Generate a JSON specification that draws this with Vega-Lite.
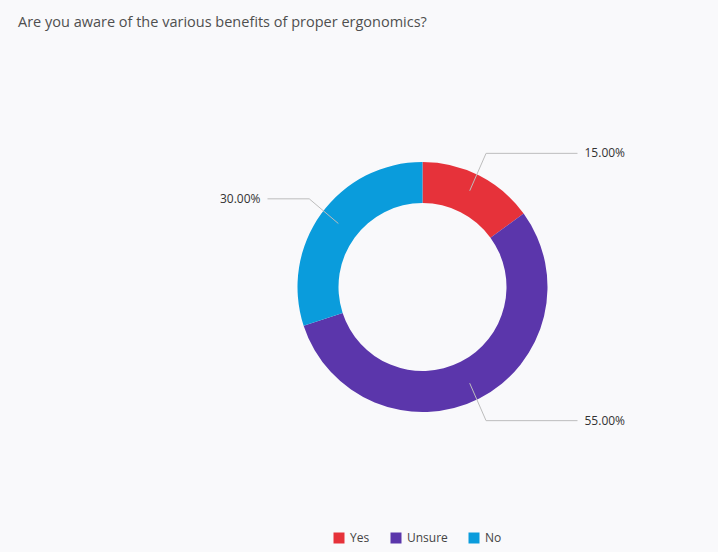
{
  "$schema": "https://vega.github.io/schema/vega-lite/v6.json",
  "width": 560,
  "height": 460,
  "autosize": {"type": "none"},
  "padding": {"left": 142.5, "top": 57, "right": 15.5, "bottom": 35},
  "background": "#f9f9fb",
  "config": {"view": {"stroke": null}, "font": "Open Sans"},
  "title": {
    "text": "Are you aware of the various benefits of proper ergonomics?",
    "anchor": "start",
    "frame": "group",
    "dx": -124.5,
    "offset": 27,
    "font": "Open Sans",
    "fontSize": 14.5,
    "fontWeight": "normal",
    "color": "#4f4f4f"
  },
  "data": {
    "values": [
      {"answer": "Yes", "percent": 15},
      {"answer": "Unsure", "percent": 55},
      {"answer": "No", "percent": 30}
    ]
  },
  "transform": [
    {"window": [{"op": "row_number", "as": "rank"}, {"op": "sum", "field": "percent", "as": "cum"}], "frame": [null, 0]},
    {"joinaggregate": [{"op": "sum", "field": "percent", "as": "total"}]},
    {"calculate": "2*PI*(datum.cum - datum.percent/2)/datum.total", "as": "ang"},
    {"calculate": "104*sin(datum.ang)", "as": "lx1"},
    {"calculate": "108*cos(datum.ang)", "as": "ly1"},
    {"calculate": "140*sin(datum.ang)", "as": "lx2"},
    {"calculate": "150*cos(datum.ang)", "as": "ly2"},
    {"calculate": "sin(datum.ang) > 0 ? 155 : -155", "as": "lx3"},
    {"calculate": "sin(datum.ang) > 0 ? 162 : -162", "as": "tx"},
    {"calculate": "format(datum.percent, '.2f') + '%'", "as": "label"}
  ],
  "layer": [
    {
      "mark": {"type": "arc", "outerRadius": 125, "innerRadius": 84},
      "encoding": {
        "theta": {"field": "percent", "type": "quantitative", "stack": true},
        "order": {"field": "rank", "type": "quantitative"},
        "color": {
          "field": "answer",
          "type": "nominal",
          "sort": ["Yes", "Unsure", "No"],
          "scale": {"domain": ["Yes", "Unsure", "No"], "range": ["#e6323a", "#5b36ab", "#0a9cdc"]},
          "legend": {
            "title": null,
            "orient": "none",
            "direction": "horizontal",
            "legendX": 190.5,
            "legendY": 475,
            "symbolType": "square",
            "symbolSize": 121,
            "symbolStrokeWidth": 0,
            "labelFontSize": 12,
            "labelColor": "#444444",
            "labelFont": "Open Sans",
            "labelOffset": 5,
            "columnPadding": 20
          }
        }
      }
    },
    {
      "mark": {"type": "rule", "color": "#bdbdbd", "strokeWidth": 1},
      "encoding": {
        "x": {"field": "lx1", "type": "quantitative", "scale": {"domain": [-280, 280], "nice": false, "zero": false}, "axis": null},
        "y": {"field": "ly1", "type": "quantitative", "scale": {"domain": [-230, 230], "nice": false, "zero": false}, "axis": null},
        "x2": {"field": "lx2"},
        "y2": {"field": "ly2"}
      }
    },
    {
      "mark": {"type": "rule", "color": "#bdbdbd", "strokeWidth": 1},
      "encoding": {
        "x": {"field": "lx2", "type": "quantitative", "scale": {"domain": [-280, 280], "nice": false, "zero": false}, "axis": null},
        "y": {"field": "ly2", "type": "quantitative", "scale": {"domain": [-230, 230], "nice": false, "zero": false}, "axis": null},
        "x2": {"field": "lx3"},
        "y2": {"field": "ly2"}
      }
    },
    {
      "transform": [{"filter": "datum.tx > 0"}],
      "mark": {"type": "text", "align": "left", "baseline": "middle", "fontSize": 12, "color": "#333333", "font": "Open Sans"},
      "encoding": {
        "x": {"field": "tx", "type": "quantitative", "scale": {"domain": [-280, 280], "nice": false, "zero": false}, "axis": null},
        "y": {"field": "ly2", "type": "quantitative", "scale": {"domain": [-230, 230], "nice": false, "zero": false}, "axis": null},
        "text": {"field": "label", "type": "nominal"}
      }
    },
    {
      "transform": [{"filter": "datum.tx < 0"}],
      "mark": {"type": "text", "align": "right", "baseline": "middle", "fontSize": 12, "color": "#333333", "font": "Open Sans"},
      "encoding": {
        "x": {"field": "tx", "type": "quantitative", "scale": {"domain": [-280, 280], "nice": false, "zero": false}, "axis": null},
        "y": {"field": "ly2", "type": "quantitative", "scale": {"domain": [-230, 230], "nice": false, "zero": false}, "axis": null},
        "text": {"field": "label", "type": "nominal"}
      }
    }
  ]
}
